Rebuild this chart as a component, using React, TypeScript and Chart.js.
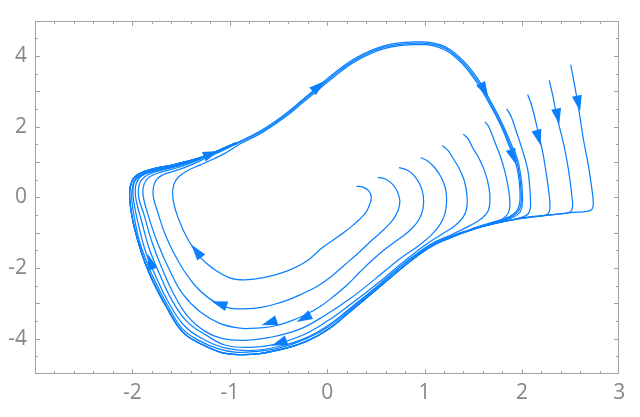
import React, { useEffect, useRef } from 'react';
import { Chart, registerables } from 'chart.js';

Chart.register(...registerables);

const X_MIN = -3;
const X_MAX = 3;
const Y_MIN = -5;
const Y_MAX = 5;
const xTickLabels = [-2, -1, 0, 1, 2, 3];
const yTickLabels = [-4, -2, 0, 2, 4];

// Streamlines, flat [x0, y0, x1, y1, ...], in flow order
const stream1 = [
  0.302, 0.312, 0.367, 0.29, 0.428, 0.18, 0.454, -0.014, 0.428, -0.263, 0.387, -0.47, 0.267, -0.788,
  0.11, -1.119, -0.054, -1.437, -0.212, -1.81, -0.414, -2.087, -0.64, -2.266, -0.846, -2.336,
  -1.0, -2.28, -1.171, -2.018, -1.308, -1.686, -1.431, -1.188, -1.534, -0.553, -1.585, 0.0,
  -1.575, 0.359, -1.524, 0.58, -1.431, 0.76, -1.308, 0.912, -1.174, 1.078, -1.041, 1.258,
  -0.897, 1.506, -0.656, 1.852, -0.414, 2.308, -0.275, 2.626, -0.137, 2.935, 0.069, 3.405,
  0.305, 3.87, 0.577, 4.201, 0.884, 4.32, 1.148, 4.243, 1.343, 3.897, 1.513, 3.344, 1.682, 2.57,
  1.79, 1.99, 1.872, 1.437, 1.929, 1.05, 1.965, 0.608, 1.98, 0.166, 1.975, -0.193, 1.939, -0.415,
  1.857, -0.567, 1.713, -0.705, 1.497, -0.898,
];

const stream2 = [
  0.518, 0.561, 0.593, 0.525, 0.665, 0.387, 0.721, 0.166, 0.747, -0.111, 0.726, -0.387,
  0.675, -0.636, 0.583, -0.912, 0.459, -1.216, 0.315, -1.589, 0.182, -1.907, 0.043, -2.239,
  -0.109, -2.529, -0.26, -2.736, -0.414, -2.916, -0.558, -3.04, -0.733, -3.137, -0.897, -3.159,
  -1.041, -3.109, -1.205, -2.874, -1.359, -2.488, -1.514, -1.879, -1.647, -1.161, -1.75, -0.332,
  -1.788, 0.083, -1.765, 0.442, -1.688, 0.636, -1.547, 0.76, -1.39, 0.926, -1.239, 1.119,
  -1.082, 1.313, -0.907, 1.548, -0.657, 1.888, -0.414, 2.349, -0.281, 2.659, -0.14, 2.977,
  0.064, 3.447, 0.305, 3.911, 0.576, 4.24, 0.884, 4.359, 1.153, 4.284, 1.353, 3.925, 1.524, 3.372,
  1.694, 2.57, 1.799, 2.004, 1.883, 1.451, 1.941, 1.072, 1.976, 0.622, 1.992, 0.166,
  1.99, -0.193, 1.959, -0.415, 1.882, -0.564, 1.723, -0.702, 1.499, -0.89,
];

const stream3 = [
  0.737, 0.837, 0.819, 0.774, 0.891, 0.622, 0.953, 0.359, 0.988, 0.028, 0.983, -0.332,
  0.942, -0.636, 0.86, -0.912, 0.747, -1.161, 0.603, -1.451, 0.47, -1.761, 0.336, -2.114,
  0.199, -2.496, 0.059, -2.819, -0.075, -3.096, -0.229, -3.331, -0.383, -3.51, -0.527, -3.635,
  -0.658, -3.69, -0.794, -3.712, -0.897, -3.704, -1.103, -3.566, -1.308, -3.234, -1.483, -2.736,
  -1.616, -2.073, -1.74, -1.299, -1.842, -0.47, -1.891, 0.083, -1.878, 0.387, -1.822, 0.58,
  -1.699, 0.719, -1.514, 0.857, -1.239, 1.161, -0.931, 1.534, -0.658, 1.926, -0.417, 2.385,
  -0.281, 2.695, -0.144, 3.013, 0.062, 3.491, 0.302, 3.952, 0.575, 4.276, 0.884, 4.395,
  1.158, 4.32, 1.364, 3.952, 1.535, 3.4, 1.706, 2.579, 1.808, 2.026, 1.895, 1.473, 1.952, 1.097,
  1.987, 0.636, 2.004, 0.174, 2.004, -0.193, 1.98, -0.423, 1.911, -0.561, 1.741, -0.699,
  1.5, -0.884,
];

const stream4 = [
  0.96, 1.125, 1.035, 1.023, 1.107, 0.829, 1.168, 0.58, 1.215, 0.249, 1.227, -0.102,
  1.209, -0.47, 1.158, -0.774, 1.066, -1.078, 0.932, -1.382, 0.747, -1.741, 0.5, -2.294,
  0.233, -2.874, -0.024, -3.344, -0.281, -3.731, -0.589, -3.966, -0.846, -4.049, -1.082, -3.994,
  -1.257, -3.787, -1.431, -3.372, -1.575, -2.736, -1.699, -1.99, -1.802, -1.244, -1.883, -0.47,
  -1.935, 0.0, -1.93, 0.359, -1.873, 0.58, -1.75, 0.732, -1.534, 0.884, -1.246, 1.147,
  -1.051, 1.385,
];

const stream5 = [
  1.182, 1.465, 1.24, 1.327, 1.295, 1.097, 1.353, 0.829, 1.405, 0.498, 1.435, 0.083,
  1.435, -0.285, 1.397, -0.561, 1.312, -0.802, 1.189, -1.023, 1.004, -1.354, 0.778, -1.838,
  0.521, -2.432, 0.254, -2.999, -0.003, -3.51, -0.26, -3.911, -0.537, -4.16, -0.794, -4.248,
  -1.041, -4.187, -1.246, -3.897, -1.442, -3.51, -1.596, -2.902, -1.719, -2.184, -1.822, -1.493,
  -1.904, -0.691, -1.966, 0.0, -1.961, 0.387, -1.904, 0.608, -1.77, 0.746, -1.534, 0.898,
  -1.246, 1.161, -1.02, 1.425,
];

const stream6 = [
  1.397, 1.788, 1.446, 1.658, 1.5, 1.374, 1.559, 1.106, 1.62, 0.719, 1.662, 0.276,
  1.672, -0.102, 1.654, -0.379, 1.59, -0.594, 1.466, -0.802, 1.281, -1.051, 1.055, -1.341,
  0.788, -1.879, 0.521, -2.501, 0.274, -3.054, 0.028, -3.593, -0.229, -3.994, -0.507, -4.229,
  -0.794, -4.339, -1.041, -4.27, -1.267, -4.022, -1.462, -3.648, -1.627, -2.985, -1.76, -2.239,
  -1.863, -1.548, -1.94, -0.746, -1.991, 0.0, -1.981, 0.415, -1.914, 0.622, -1.781, 0.76,
  -1.544, 0.904, -1.246, 1.161, -1.0, 1.452,
];

const stream7 = [
  1.62, 2.137, 1.661, 1.99, 1.723, 1.556, 1.775, 1.188, 1.826, 0.719, 1.86, 0.268,
  1.877, -0.193, 1.86, -0.442, 1.795, -0.622, 1.651, -0.746, 1.466, -0.912, 1.261, -1.106,
  1.055, -1.368, 0.778, -1.907, 0.506, -2.557, 0.264, -3.11, 0.023, -3.649, -0.219, -4.008,
  -0.496, -4.27, -0.743, -4.367, -0.948, -4.381, -1.123, -4.284, -1.308, -4.063, -1.483, -3.732,
  -1.647, -3.013, -1.781, -2.294, -1.853, -1.824, -1.925, -1.271, -1.981, -0.553, -2.007, 0.028,
  -1.986, 0.428, -1.92, 0.627, -1.786, 0.766, -1.544, 0.907, -1.241, 1.169, -0.979, 1.482,
];

const stream8Head = [
  1.843, 2.507, 1.888, 2.294, 1.946, 1.833, 1.99, 1.465, 2.031, 1.097, 2.062, 0.746,
  2.078, 0.359, 2.088, -0.102, 2.083, -0.359, 2.047, -0.511, 1.939, -0.608,
];

const stream9Head = [
  2.059, 2.91, 2.103, 2.57, 2.168, 1.833, 2.216, 1.244, 2.247, 0.719, 2.271, 0.268,
  2.288, -0.193, 2.281, -0.401, 2.245, -0.5, 2.13, -0.54, 1.96, -0.6,
];

const stream10Head = [
  2.281, 3.308, 2.319, 2.855, 2.357, 2.294, 2.425, 1.556, 2.476, 0.821, 2.511, 0.083,
  2.52, -0.276, 2.494, -0.415, 2.391, -0.47, 2.186, -0.525, 1.97, -0.605,
];

const stream11Head = [
  2.501, 3.751, 2.535, 3.261, 2.579, 2.57, 2.631, 1.65, 2.682, 0.912, 2.717, 0.268,
  2.733, -0.166, 2.72, -0.332, 2.669, -0.401, 2.528, -0.428, 2.254, -0.511, 1.98, -0.603,
];

// converged outer part shared by the streamlines that start outside the cycle
const outerTail = [
  1.723, -0.738, 1.487, -0.912, 1.261, -1.147, 1.055, -1.41, 0.783, -1.962, 0.511, -2.598,
  0.269, -3.151, 0.028, -3.704, -0.214, -4.077, -0.486, -4.312, -0.692, -4.422, -0.897, -4.45,
  -1.082, -4.395, -1.277, -4.174, -1.483, -3.814, -1.657, -3.068, -1.796, -2.336, -1.868, -1.866,
  -1.935, -1.313, -2.002, -0.567, -2.029, 0.083, -2.002, 0.47, -1.93, 0.663, -1.791, 0.802,
  -1.55, 0.94, -1.241, 1.18, -0.938, 1.545,
];

// arrowheads: [baseX, baseY, tipX, tipY]
const arrowHeads = [
  -1.267, 1.147, -1.113, 1.313,
  -0.157, 2.979, -0.024, 3.289,
  1.569, 3.262, 1.654, 2.828,
  1.884, 1.354, 1.939, 0.931,
  -1.791, -2.045, -1.842, -1.603,
  -1.291, -1.714, -1.393, -1.346,
  -1.017, -3.096, -1.188, -2.938,
  -0.503, -3.463, -0.674, -3.621,
  -0.16, -3.308, -0.314, -3.53,
  -0.435, -4.063, -0.571, -4.201,
  2.152, 1.879, 2.193, 1.465,
  2.35, 2.523, 2.384, 2.065,
  2.563, 2.894, 2.597, 2.432,
];

const BLUE = 'rgb(10,128,255)';
const FRAME = '#a2a2a2';
const LABEL = '#868686';

const toPts = (flat: number[]) => {
  const out: { x: number; y: number }[] = [];
  for (let i = 0; i + 1 < flat.length; i += 2) out.push({ x: flat[i], y: flat[i + 1] });
  return out;
};

const streams = [
  stream1,
  stream2,
  stream3,
  stream4,
  stream5,
  stream6,
  stream7,
  [...stream8Head, ...outerTail],
  [...stream9Head, ...outerTail],
  [...stream10Head, ...outerTail],
  [...stream11Head, ...outerTail],
];

const framePlugin = {
  id: 'frameAndArrows',
  afterDatasetsDraw(chart: any) {
    const { ctx, scales } = chart;
    const xs = scales.x;
    const ys = scales.y;
    ctx.save();
    ctx.fillStyle = BLUE;
    const L = 16;
    const W = 5;
    for (let i = 0; i + 3 < arrowHeads.length; i += 4) {
      const bx = xs.getPixelForValue(arrowHeads[i]);
      const by = ys.getPixelForValue(arrowHeads[i + 1]);
      const tx = xs.getPixelForValue(arrowHeads[i + 2]);
      const ty = ys.getPixelForValue(arrowHeads[i + 3]);
      const d = Math.hypot(tx - bx, ty - by) || 1;
      const ux = (tx - bx) / d;
      const uy = (ty - by) / d;
      const cx = tx - ux * L;
      const cy = ty - uy * L;
      ctx.beginPath();
      ctx.moveTo(tx, ty);
      ctx.lineTo(cx - uy * W, cy + ux * W);
      ctx.lineTo(cx + uy * W, cy - ux * W);
      ctx.closePath();
      ctx.fill();
    }
    ctx.restore();
  },
  afterDraw(chart: any) {
    const { ctx, chartArea: a, scales } = chart;
    const xs = scales.x;
    const ys = scales.y;
    ctx.save();
    ctx.strokeStyle = FRAME;
    ctx.lineWidth = 1;
    const l = Math.round(a.left) + 0.5;
    const r = Math.round(a.right) - 0.5;
    const t = Math.round(a.top) + 0.5;
    const b = Math.round(a.bottom) - 0.5;
    ctx.strokeRect(l, t, r - l, b - t);
    ctx.beginPath();
    for (let k = 0; k <= 30; k++) {
      const v = X_MIN + k * 0.2;
      const major = k % 5 === 0;
      const len = major ? 4.5 : 2.5;
      const px = Math.round(xs.getPixelForValue(v)) + 0.5;
      if (px <= l + 1 || px >= r - 1) continue;
      ctx.moveTo(px, b);
      ctx.lineTo(px, b - len);
      ctx.moveTo(px, t);
      ctx.lineTo(px, t + len);
    }
    for (let k = 0; k <= 20; k++) {
      const v = Y_MIN + k * 0.5;
      const major = k % 2 === 0;
      const len = major ? 4.5 : 2.5;
      const py = Math.round(ys.getPixelForValue(v)) + 0.5;
      if (py <= t + 1 || py >= b - 1) continue;
      ctx.moveTo(l, py);
      ctx.lineTo(l + len, py);
      ctx.moveTo(r, py);
      ctx.lineTo(r - len, py);
    }
    ctx.stroke();
    ctx.restore();
  },
};

export default function App() {
  const ref = useRef<HTMLCanvasElement | null>(null);
  useEffect(() => {
    document.body.style.margin = '0';
    const canvas = ref.current;
    if (!canvas) return;
    const font = { family: '"Open Sans", "Noto Sans", sans-serif', size: 21 };
    const chart = new Chart(canvas, {
      type: 'scatter',
      data: {
        datasets: streams.map((s, i) => ({
          label: 'stream' + (i + 1),
          data: toPts(s),
          showLine: true,
          borderColor: BLUE,
          backgroundColor: BLUE,
          borderWidth: 1.25,
          pointRadius: 0,
          pointHoverRadius: 0,
          tension: 0.4,
          fill: false,
        })),
      },
      options: {
        animation: false,
        responsive: false,
        maintainAspectRatio: false,
        devicePixelRatio: 1,
        layout: { padding: { top: 12.3, right: 20.7, left: 0, bottom: 0 } },
        plugins: { legend: { display: false }, tooltip: { enabled: false } },
        events: [],
        scales: {
          x: {
            type: 'linear',
            min: X_MIN,
            max: X_MAX,
            grid: { display: false, drawTicks: false },
            border: { display: false },
            afterBuildTicks: (s: any) => {
              s.ticks = xTickLabels.map((v) => ({ value: v }));
            },
            afterFit: (s: any) => {
              s.height = 43;
            },
            ticks: { color: LABEL, font, padding: 6, maxRotation: 0, autoSkip: false },
          },
          y: {
            type: 'linear',
            min: Y_MIN,
            max: Y_MAX,
            grid: { display: false, drawTicks: false },
            border: { display: false },
            afterBuildTicks: (s: any) => {
              s.ticks = yTickLabels.map((v) => ({ value: v }));
            },
            afterFit: (s: any) => {
              s.width = 35;
            },
            ticks: { color: LABEL, font, padding: 8, autoSkip: false },
          },
        },
      },
      plugins: [framePlugin],
    } as any);
    return () => chart.destroy();
  }, []);
  return (
    <div style={{ width: 640, height: 417 }}>
      <canvas ref={ref} width={640} height={417} style={{ display: 'block' }} />
    </div>
  );
}
